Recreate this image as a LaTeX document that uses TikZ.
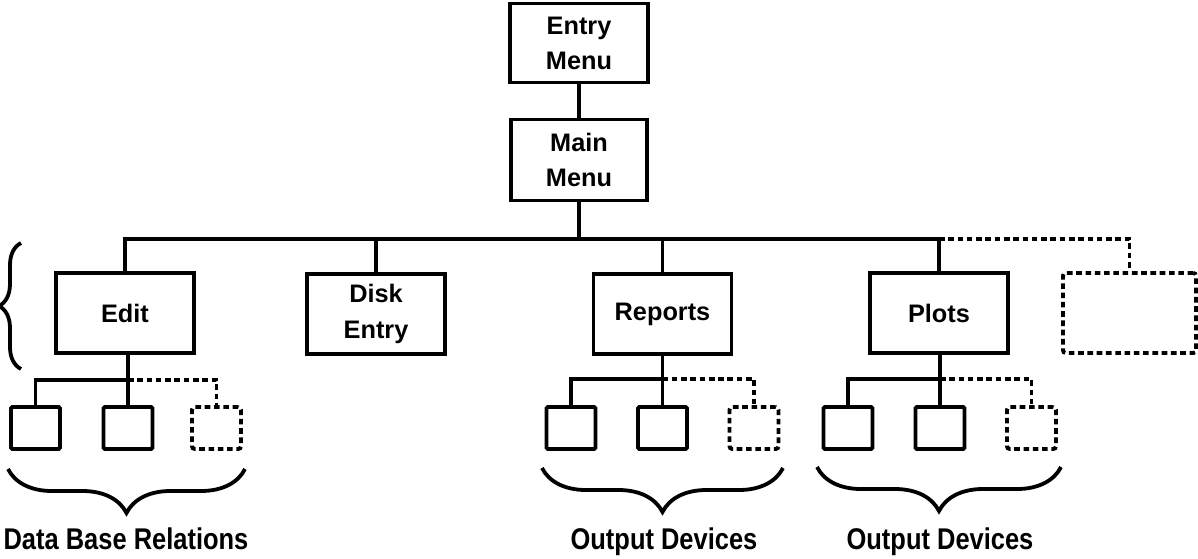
\documentclass[tikz,border=0pt]{standalone}
\usepackage{fontspec}
\setmainfont{Liberation Sans}
\usetikzlibrary{decorations.pathreplacing}
\begin{document}
\begin{tikzpicture}[x=0.025cm,y=-0.025cm,
  line width=2.7pt,
  box/.style={draw, line width=2.8pt, minimum width=3.45cm, minimum height=2cm,
    inner sep=0pt, align=center,
    font=\fontsize{18pt}{25pt}\selectfont\bfseries},
  leaf/.style={draw, line width=2.8pt, minimum width=1.225cm, minimum height=1.05cm,
    inner sep=0pt, rounded corners=1pt},
  dashline/.style={dash pattern=on 4pt off 2.6pt},
  spare/.style={dashline, rounded corners=2pt},
  hbrace/.style={decorate, decoration={brace, amplitude=1.1cm}},
  vbrace/.style={decorate, decoration={brace, amplitude=0.55cm}},
  lbl/.style={anchor=base, inner sep=0pt,
    font=\fontsize{21.3pt}{25pt}\selectfont\bfseries}]
\useasboundingbox (0,0) rectangle (1198,559);

% menu hierarchy
\node[box, minimum height=1.975cm] (entry) at (579,43) {Entry\\Menu};
\node[box, minimum width=3.4cm, minimum height=2.025cm] (main) at (579,160) {Main\\Menu};
\node[box] (edit) at (125,313) {Edit};
\node[box] (disk) at (376,314) {Disk\\Entry};
\node[box] (reports) at (662.5,314) {Reports};
\node[box] (plots) at (939,313) {Plots};
\node[box, spare, minimum width=3.325cm] (more) at (1129.5,313) {};

\coordinate (bus) at (0,239);
\draw (entry.south) -- (main.north);
\draw (main.south) -- (main.south |- bus);
\draw (edit.north) -- (edit.north |- bus) -- (plots.north |- bus) -- (plots.north);
\draw (disk.north) -- (disk.north |- bus);
\draw (reports.north) -- (reports.north |- bus);
\draw[dashline] (plots.north |- bus) -| (more.north);

% Edit sub-items
\node[leaf] (e1) at (35.5,428) {};
\node[leaf] (e2) at (128,428) {};
\node[leaf, spare] (e3) at (216.5,428) {};
\coordinate (ebus) at (0,380);
\draw (e2.north |- edit.south) -- (e2.north);
\draw (e1.north) |- (e2.north |- ebus);
\draw[dashline] (e2.north |- ebus) -| (e3.north);

% Reports sub-items
\node[leaf] (r1) at (571,428) {};
\node[leaf] (r2) at (662.5,428) {};
\node[leaf, spare] (r3) at (754,428) {};
\coordinate (rbus) at (0,379);
\draw (r2.north |- reports.south) -- (r2.north);
\draw (r1.north) |- (r2.north |- rbus);
\draw[dashline] (r2.north |- rbus) -| (r3.north);

% Plots sub-items
\node[leaf] (p1) at (848,428) {};
\node[leaf] (p2) at (940,428) {};
\node[leaf, spare] (p3) at (1031.5,428) {};
\coordinate (pbus) at (0,379);
\draw (p2.north |- plots.south) -- (p2.north);
\draw (p1.north) |- (p2.north |- pbus);
\draw[dashline] (p2.north |- pbus) -| (p3.north);

% braces
\coordinate (vb1) at (21,369);
\coordinate (vb2) at (21,243);
\draw[vbrace] (vb1) -- (vb2);
\coordinate (eb1) at (245,469);
\coordinate (eb2) at (8,469);
\draw[hbrace] (eb1) -- (eb2);
\coordinate (rb1) at (783,468);
\coordinate (rb2) at (542,468);
\draw[hbrace] (rb1) -- (rb2);
\coordinate (pb1) at (1061,467);
\coordinate (pb2) at (817,467);
\draw[hbrace] (pb1) -- (pb2);

% group labels
\node[lbl] (dbr) at (126,549) {\scalebox{0.85}[1]{Data Base Relations}};
\node[lbl] (od1) at (664,549) {\scalebox{0.85}[1]{Output Devices}};
\node[lbl] (od2) at (940,549) {\scalebox{0.85}[1]{Output Devices}};
\end{tikzpicture}
\end{document}
